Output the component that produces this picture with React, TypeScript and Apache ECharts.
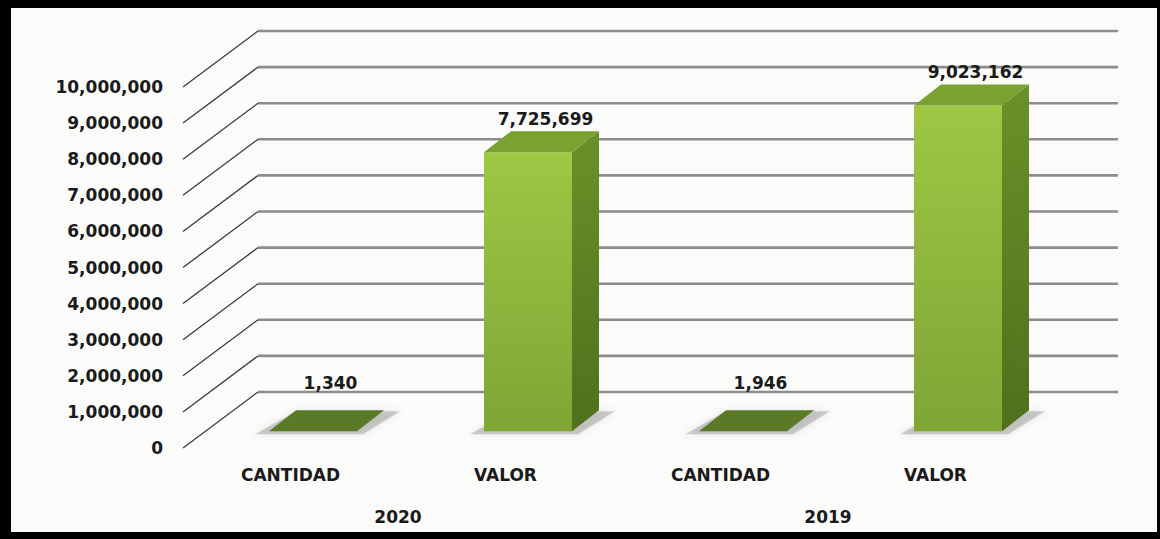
import React, { useEffect, useRef } from "react";
import * as echarts from "echarts";

const categories = ["CANTIDAD", "VALOR", "CANTIDAD", "VALOR"];
const years = ["2020", "2019"];
const values = [1340, 7725699, 1946, 9023162];
const tickValues = [0, 1000000, 2000000, 3000000, 4000000, 5000000, 6000000, 7000000, 8000000, 9000000, 10000000];

const FONT = "DejaVu Sans";
const fmt = (v: number) => v.toLocaleString("en-US");

export default function App() {
  const ref = useRef<HTMLDivElement>(null);
  useEffect(() => {
    if (!ref.current) return;
    const chart = echarts.init(ref.current, null, { renderer: "svg" });
    const DX = 75, DY = -56; // depth of the back wall
    const T = 0.3; // bar front plane position in depth
    const BW = 88, BDX = 27, BDY = -21;
    chart.setOption({
      animation: false,
      backgroundColor: "transparent",
      grid: { left: 183, top: 87, bottom: 91, width: 860, containLabel: false },
      xAxis: [
        {
          type: "category",
          data: categories,
          axisLine: { show: false },
          axisTick: { show: false },
          axisLabel: { margin: 18, fontFamily: FONT, fontWeight: "bold", fontSize: 17, color: "#1a1a1a" },
        },
        {
          type: "category",
          data: years,
          position: "bottom",
          offset: 52,
          axisLine: { show: false },
          axisTick: { show: false },
          axisLabel: { margin: 8, fontFamily: FONT, fontWeight: "bold", fontSize: 17, color: "#1a1a1a" },
        },
      ],
      yAxis: {
        type: "value",
        min: 0,
        max: 10000000,
        interval: 1000000,
        axisLine: { show: false },
        axisTick: { show: false },
        splitLine: { show: false },
        axisLabel: {
          margin: 20,
          fontFamily: FONT,
          fontWeight: "bold",
          fontSize: 17,
          color: "#1a1a1a",
          formatter: (v: number) => fmt(v),
        },
      },
      series: [
        {
          type: "custom",
          xAxisIndex: 0,
          z: 1,
          data: tickValues.map((v) => [0, v]),
          encode: { x: 0, y: 1 },
          renderItem: (params: any, api: any) => {
            const cs = params.coordSys;
            const y = api.coord([0, api.value(1)])[1];
            const x0 = cs.x;
            return {
              type: "group",
              children: [
                {
                  type: "line",
                  shape: { x1: x0 + DX, y1: y + DY, x2: x0 + DX + cs.width, y2: y + DY },
                  style: { stroke: "#8c8c8c", lineWidth: 2.6 },
                },
                {
                  type: "line",
                  shape: { x1: x0, y1: y, x2: x0 + DX, y2: y + DY },
                  style: { stroke: "#3a3a3a", lineWidth: 1.3 },
                },
              ],
            };
          },
        },
        {
          type: "custom",
          xAxisIndex: 0,
          z: 3,
          data: values.map((v, i) => [i, v]),
          encode: { x: 0, y: 1 },
          renderItem: (params: any, api: any) => {
            const i = api.value(0);
            const v = api.value(1);
            const p0 = api.coord([i, 0]);
            const p1 = api.coord([i, v]);
            const cx = p0[0] + DX * T;
            const yb = p0[1] + DY * T;
            const yt = p1[1] + DY * T;
            const xl = cx - BW / 2;
            const xr = cx + BW / 2;
            const flat = yb - yt < 2;
            const labelY = Math.min(yt + BDY - 12, yb - 48);
            return {
              type: "group",
              children: [
                {
                  type: "polygon",
                  shape: {
                    points: [
                      [xl - 14, yb + 3],
                      [xr + 6, yb + 3],
                      [xr + BDX + 16, yb + BDY + 1],
                      [xl + BDX, yb + BDY + 1],
                    ],
                  },
                  style: { fill: "rgba(110,110,110,0.30)", shadowBlur: 6, shadowColor: "rgba(90,90,90,0.5)" },
                },
                {
                  type: "rect",
                  shape: { x: xl, y: yt, width: BW, height: yb - yt },
                  style: {
                    fill: new echarts.graphic.LinearGradient(0, 0, 0, 1, [
                      { offset: 0, color: "#9ec744" },
                      { offset: 1, color: "#7fa534" },
                    ]),
                  },
                },
                {
                  type: "polygon",
                  shape: {
                    points: [
                      [xr, yb],
                      [xr + BDX, yb + BDY],
                      [xr + BDX, yt + BDY],
                      [xr, yt],
                    ],
                  },
                  style: {
                    fill: new echarts.graphic.LinearGradient(0, 0, 0, 1, [
                      { offset: 0, color: "#6a9128" },
                      { offset: 1, color: "#4f701d" },
                    ]),
                  },
                },
                {
                  type: "polygon",
                  shape: {
                    points: [
                      [xl, yt],
                      [xl + BDX, yt + BDY],
                      [xr + BDX, yt + BDY],
                      [xr, yt],
                    ],
                  },
                  style: { fill: flat ? "#5a7a28" : "#79a230" },
                },
                {
                  type: "text",
                  style: {
                    x: cx + BDX / 2 + 4,
                    y: labelY,
                    text: fmt(v),
                    align: "center",
                    verticalAlign: "middle",
                    fontFamily: FONT,
                    fontWeight: "bold",
                    fontSize: 17,
                    fill: "#1a1a1a",
                  },
                },
              ],
            };
          },
        },
      ],
    });
    return () => chart.dispose();
  }, []);
  return (
    <div style={{ position: "fixed", left: 0, top: 0, width: 1160, height: 539, background: "#000" }}>
      <div style={{ position: "absolute", left: 11, top: 8, width: 1146, height: 524, background: "#fbfbf9" }} />
      <div ref={ref} style={{ position: "absolute", left: 0, top: 0, width: 1160, height: 539 }} />
    </div>
  );
}
